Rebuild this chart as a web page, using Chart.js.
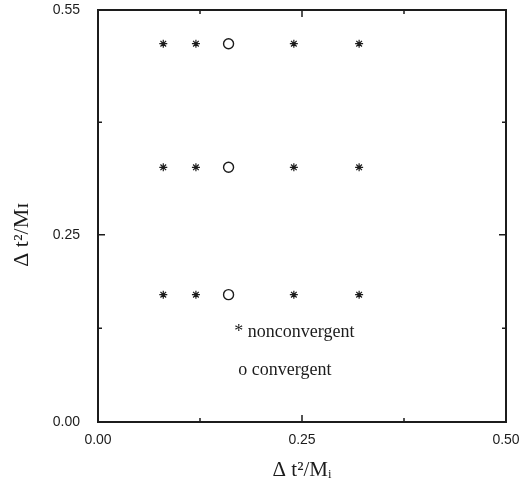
<!DOCTYPE html>
<html>
<head>
<meta charset="utf-8">
<script src="https://cdn.jsdelivr.net/npm/chart.js@4/dist/chart.umd.min.js"></script>
<style>
  html, body { margin: 0; padding: 0; background: #fff; }
  #wrap { width: 519px; height: 489px; }
</style>
</head>
<body>
<div id="wrap"><canvas id="c" width="519" height="489"></canvas></div>
<script>
// ---- data ----
const xPositions = [0.08, 0.12, 0.16, 0.24, 0.32];
const yLevels = [0.17, 0.34, 0.505];
const convergentX = [0.16];
const xTickLabels = [0, 0.25, 0.5];
const yTickLabels = [0, 0.25, 0.55];
const xMinorTicks = [0.125, 0.375];
const yMinorTicks = [0.125, 0.4];
const legendLines = ['* nonconvergent', 'o convergent'];
const xTitle = 'Δ t²/Mᵢ';
const yTitle = 'Δ t²/Mɪ';

const nonconvergent = [];
const convergent = [];
yLevels.forEach(y => {
  xPositions.forEach(x => {
    if (convergentX.includes(x)) convergent.push({x, y});
    else nonconvergent.push({x, y});
  });
});

const INK = '#1c1c1c';

const framePlugin = {
  id: 'frame',
  afterDraw(chart) {
    const {ctx, chartArea: a, scales: {x, y}} = chart;
    ctx.save();
    ctx.strokeStyle = INK;
    ctx.lineWidth = 2;
    ctx.strokeRect(a.left, a.top, a.right - a.left, a.bottom - a.top);
    ctx.lineWidth = 1.5;
    const xt = [...xMinorTicks.map(v => [v, 4]), [0.25, 7]];
    const yt = [...yMinorTicks.map(v => [v, 4]), [0.25, 7]];
    xt.forEach(([v, len]) => {
      const px = x.getPixelForValue(v);
      ctx.beginPath();
      ctx.moveTo(px, a.bottom); ctx.lineTo(px, a.bottom - len);
      ctx.moveTo(px, a.top); ctx.lineTo(px, a.top + len);
      ctx.stroke();
    });
    yt.forEach(([v, len]) => {
      const py = y.getPixelForValue(v);
      ctx.beginPath();
      ctx.moveTo(a.left, py); ctx.lineTo(a.left + len, py);
      ctx.moveTo(a.right, py); ctx.lineTo(a.right - len, py);
      ctx.stroke();
    });
    // legend text inside plot
    ctx.fillStyle = INK;
    ctx.font = '18px "Liberation Serif"';
    ctx.textBaseline = 'middle';
    ctx.textAlign = 'left';
    ctx.fillText(legendLines[0], x.getPixelForValue(0.167), y.getPixelForValue(0.12));
    ctx.fillText(legendLines[1], x.getPixelForValue(0.172), y.getPixelForValue(0.069));
    // y axis title (rotated, reads bottom to top)
    ctx.font = '22px "Liberation Serif"';
    ctx.textAlign = 'center';
    ctx.translate(22, y.getPixelForValue(0.25));
    ctx.rotate(-Math.PI / 2);
    ctx.fillText(yTitle, 0, 0);
    ctx.restore();
  }
};

new Chart(document.getElementById('c'), {
  type: 'scatter',
  data: {
    datasets: [
      {
        label: 'nonconvergent',
        data: nonconvergent,
        pointStyle: 'star',
        pointRadius: 4,
        borderColor: INK,
        backgroundColor: INK,
        borderWidth: 1.2
      },
      {
        label: 'convergent',
        data: convergent,
        pointStyle: 'circle',
        pointRadius: 5,
        borderColor: INK,
        backgroundColor: 'rgba(0,0,0,0)',
        borderWidth: 1.4
      }
    ]
  },
  options: {
    responsive: false,
    animation: false,
    layout: { padding: { top: 10, right: 13, left: 0, bottom: 0 } },
    plugins: { legend: { display: false }, tooltip: { enabled: false } },
    scales: {
      x: {
        type: 'linear', min: 0, max: 0.5,
        afterBuildTicks: s => { s.ticks = xTickLabels.map(v => ({value: v})); },
        afterFit: s => { s.height = 67; s.paddingLeft = 0; s.paddingRight = 0; },
        grid: { display: false, drawTicks: false },
        border: { display: false },
        ticks: {
          color: INK, padding: 10,
          font: { family: '"Liberation Sans"', size: 14 },
          callback: v => v.toFixed(2),
          maxRotation: 0
        },
        title: {
          display: true, text: xTitle, color: INK,
          font: { family: '"Liberation Serif"', size: 21 },
          padding: { top: 4, bottom: 6 }
        }
      },
      y: {
        type: 'linear', min: 0, max: 0.55,
        afterBuildTicks: s => { s.ticks = yTickLabels.map(v => ({value: v})); },
        afterFit: s => { s.width = 98; s.paddingTop = 0; s.paddingBottom = 0; },
        grid: { display: false, drawTicks: false },
        border: { display: false },
        ticks: {
          color: INK, padding: 18,
          font: { family: '"Liberation Sans"', size: 14 },
          callback: v => v.toFixed(2)
        },
        title: { display: false }
      }
    }
  },
  plugins: [framePlugin]
});
</script>
</body>
</html>
